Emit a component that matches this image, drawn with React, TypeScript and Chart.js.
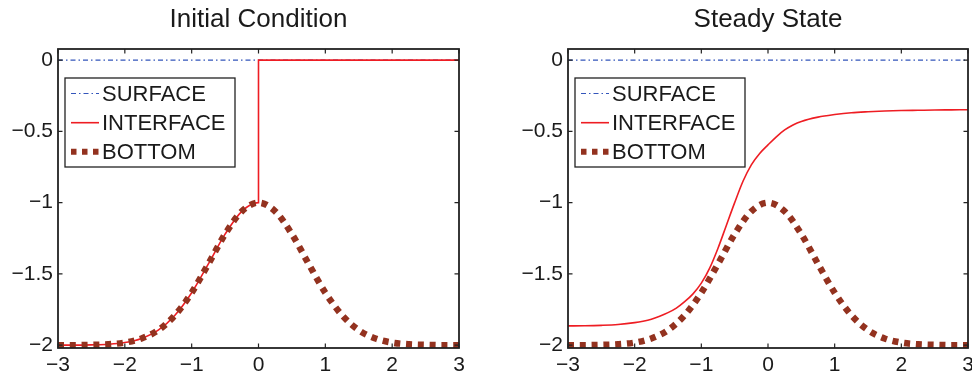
import React, { useEffect, useRef } from "react";
import { Chart, registerables } from "chart.js";
Chart.register(...registerables);

const X_VALUES = [-3, -2.75, -2.5, -2.25, -2, -1.75, -1.5, -1.25, -1, -0.75, -0.5, -0.25, 0, 0.25, 0.5, 0.75, 1, 1.25, 1.5, 1.75, 2, 2.25, 2.5, 2.75, 3];
const SURFACE = [0, 0, 0, 0, 0, 0, 0, 0, 0, 0, 0, 0, 0, 0, 0, 0, 0, 0, 0, 0, 0, 0, 0, 0, 0];
const BOTTOM = [-2.0, -2.0, -1.998, -1.994, -1.982, -1.953, -1.895, -1.79, -1.632, -1.43, -1.221, -1.061, -1.0, -1.061, -1.221, -1.43, -1.632, -1.79, -1.895, -1.953, -1.982, -1.994, -1.998, -2.0, -2.0];
const INITIAL_INTERFACE_X = [-3, -2.75, -2.5, -2.25, -2, -1.75, -1.5, -1.25, -1, -0.75, -0.5, -0.25, 0, 0, 3];
const INITIAL_INTERFACE_Y = [-2.0, -2.0, -1.998, -1.994, -1.982, -1.953, -1.895, -1.79, -1.632, -1.43, -1.221, -1.061, -1.0, 0, 0];
const STEADY_X = [-3, -2.75, -2.5, -2.25, -2, -1.875, -1.75, -1.625, -1.5, -1.375, -1.25, -1.125, -1, -0.875, -0.75, -0.625, -0.5, -0.375, -0.25, -0.125, 0, 0.125, 0.25, 0.375, 0.5, 0.75, 1, 1.25, 1.5, 1.75, 2, 2.25, 2.5, 2.75, 3];
const STEADY_INTERFACE = [-1.865, -1.864, -1.861, -1.855, -1.842, -1.832, -1.818, -1.797, -1.772, -1.74, -1.695, -1.64, -1.565, -1.46, -1.32, -1.16, -1.0, -0.85, -0.735, -0.655, -0.595, -0.538, -0.49, -0.455, -0.43, -0.4, -0.382, -0.369, -0.362, -0.357, -0.354, -0.352, -0.35, -0.349, -0.348];
const X_TICKS = [-3, -2, -1, 0, 1, 2, 3];
const Y_TICKS = [-2, -1.5, -1, -0.5, 0];
const TITLES = ["Initial Condition", "Steady State"];
const LEGEND_LABELS = ["SURFACE", "INTERFACE", "BOTTOM"];

const FONT = '"Liberation Sans", Arial, Helvetica, sans-serif';
const TEXT = "#1a1a1a";
const BLUE = "#3355bb";
const RED = "#ee1d23";
const BROWN = "#93321f";
const SURFACE_DASH = [5, 3, 1.5, 3];
const BOTTOM_DASH = [6, 5.8];

const fmt = (v: number) => (v < 0 ? "\u2212" + String(Math.abs(v)) : String(v));

function decorPlugin(title: string) {
  return {
    id: "decor",
    afterDatasetsDraw(chart: any) {
      const { ctx, chartArea: a, scales } = chart;
      const TL = 4.5;
      ctx.save();
      ctx.setLineDash([]);
      ctx.strokeStyle = "#222";
      ctx.lineWidth = 1.8;
      ctx.strokeRect(a.left, a.top, a.right - a.left, a.bottom - a.top);
      ctx.lineWidth = 1.2;
      ctx.beginPath();
      for (const v of X_TICKS) {
        const x = scales.x.getPixelForValue(v);
        ctx.moveTo(x, a.bottom);
        ctx.lineTo(x, a.bottom - TL);
        ctx.moveTo(x, a.top);
        ctx.lineTo(x, a.top + TL);
      }
      for (const v of Y_TICKS) {
        const y = scales.y.getPixelForValue(v);
        ctx.moveTo(a.left, y);
        ctx.lineTo(a.left + TL, y);
        ctx.moveTo(a.right, y);
        ctx.lineTo(a.right - TL, y);
      }
      ctx.stroke();

      // title
      ctx.fillStyle = TEXT;
      ctx.font = "26px " + FONT;
      ctx.textAlign = "center";
      ctx.textBaseline = "middle";
      ctx.fillText(title, (a.left + a.right) / 2, 20);

      // legend
      const bx = a.left + 7;
      const by = a.top + 29;
      const bw = 170;
      const bh = 89;
      ctx.fillStyle = "#fff";
      ctx.fillRect(bx, by, bw, bh);
      ctx.strokeStyle = "#222";
      ctx.lineWidth = 1.3;
      ctx.strokeRect(bx, by, bw, bh);
      const rows = [15.5, 44.7, 73.7];
      const styles = [
        { c: BLUE, w: 1.2, d: SURFACE_DASH },
        { c: RED, w: 1.6, d: [] as number[] },
        { c: BROWN, w: 6, d: [5.5, 5.5] },
      ];
      ctx.font = "22px " + FONT;
      ctx.textAlign = "left";
      for (let i = 0; i < 3; i++) {
        const y = by + rows[i];
        ctx.beginPath();
        ctx.strokeStyle = styles[i].c;
        ctx.lineWidth = styles[i].w;
        ctx.setLineDash(styles[i].d);
        ctx.lineCap = "butt";
        ctx.moveTo(bx + 6, y);
        ctx.lineTo(bx + 34, y);
        ctx.stroke();
        ctx.setLineDash([]);
        ctx.fillStyle = TEXT;
        ctx.fillText(LEGEND_LABELS[i], bx + 37, y + 1);
      }
      ctx.restore();
    },
  };
}

function Panel(props: { left: number; title: string; ix: number[]; iy: number[]; padL: number; padR: number }) {
  const ref = useRef<HTMLCanvasElement | null>(null);
  useEffect(() => {
    if (!ref.current) return;
    const pts = (xs: number[], ys: number[]) => xs.map((x, i) => ({ x, y: ys[i] }));
    const tickFont = { family: FONT, size: 21 };
    const chart = new Chart(ref.current, {
      type: "line",
      data: {
        datasets: [
          {
            label: LEGEND_LABELS[0],
            data: pts(X_VALUES, SURFACE),
            borderColor: BLUE,
            borderWidth: 1.2,
            borderDash: SURFACE_DASH,
            tension: 0,
            pointRadius: 0,
            order: 2,
          },
          {
            label: LEGEND_LABELS[1],
            data: pts(props.ix, props.iy),
            borderColor: RED,
            borderWidth: 1.6,
            cubicInterpolationMode: "monotone",
            pointRadius: 0,
            order: 1,
          },
          {
            label: LEGEND_LABELS[2],
            data: pts(X_VALUES, BOTTOM),
            borderColor: BROWN,
            borderWidth: 6.5,
            borderDash: BOTTOM_DASH,
            borderCapStyle: "butt",
            cubicInterpolationMode: "monotone",
            pointRadius: 0,
            order: 0,
          },
        ],
      },
      options: {
        responsive: false,
        animation: false,
        devicePixelRatio: 1,
        layout: { padding: { left: props.padL, right: props.padR, top: 49, bottom: 0 } },
        plugins: { legend: { display: false }, tooltip: { enabled: false }, title: { display: false } },
        elements: { point: { radius: 0 } },
        scales: {
          x: {
            type: "linear",
            min: -3,
            max: 3,
            grid: { display: false, drawTicks: false },
            border: { display: false },
            ticks: { padding: 5, font: tickFont, color: TEXT, autoSkip: false, maxRotation: 0, callback: (v: any) => fmt(Number(v)) },
            afterBuildTicks: (s: any) => {
              s.ticks = X_TICKS.map((v) => ({ value: v }));
            },
            afterFit: (s: any) => {
              s.height = 28;
              s.paddingLeft = 0;
              s.paddingRight = 0;
            },
          },
          y: {
            type: "linear",
            min: -2.02,
            max: 0.078,
            grid: { display: false, drawTicks: false },
            border: { display: false },
            ticks: { padding: 5, font: tickFont, color: TEXT, autoSkip: false, callback: (v: any) => fmt(Number(v)) },
            afterBuildTicks: (s: any) => {
              s.ticks = Y_TICKS.map((v) => ({ value: v }));
            },
            afterFit: (s: any) => {
              s.width = 58;
              s.paddingTop = 0;
              s.paddingBottom = 0;
            },
          },
        },
      } as any,
      plugins: [decorPlugin(props.title)],
    });
    return () => chart.destroy();
  }, []);
  return (
    <canvas
      ref={ref}
      width={486}
      height={376}
      style={{ position: "absolute", left: props.left, top: 0, width: 486, height: 376 }}
    />
  );
}

export default function App() {
  return (
    <div style={{ position: "absolute", left: 0, top: 0, width: 972, height: 376, background: "#fff", overflow: "hidden" }}>
      <Panel left={0} title={TITLES[0]} ix={INITIAL_INTERFACE_X} iy={INITIAL_INTERFACE_Y} padL={0} padR={27} />
      <Panel left={486} title={TITLES[1]} ix={STEADY_X} iy={STEADY_INTERFACE} padL={24} padR={4} />
    </div>
  );
}
